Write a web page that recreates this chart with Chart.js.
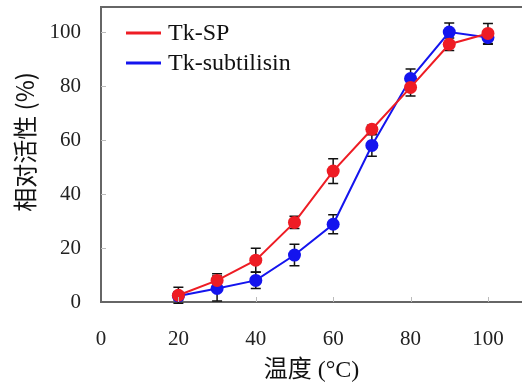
<!DOCTYPE html>
<html lang="zh">
<head>
  <meta charset="UTF-8">
  <title>相对活性</title>
  <script src="https://cdn.jsdelivr.net/npm/chart.js"></script>
  <style>
    html, body { margin: 0; padding: 0; background: #fff; overflow: hidden; }
    #wrap { width: 522px; height: 385px; }
  </style>
</head>
<body>
  <div id="wrap"><canvas id="actChart"></canvas></div>

  <script>
    const temps = [20, 30, 40, 50, 60, 70, 80, 90, 100];
    const spValues = [2.5, 8, 15.5, 29.5, 48.5, 64, 79.5, 95.5, 99.5];
    const spErrors = [3, 2.5, 4.4, 2.3, 4.6, 1.5, 3.2, 2.3, 3.7];
    const subValues = [2.2, 5, 8, 17.4, 28.8, 58, 82.8, 100, 98];
    const subErrors = [1.5, 4.6, 3, 4, 3.5, 4, 3.5, 3.4, 2.5];
    const xTicks = [0, 20, 40, 60, 80, 100];
    const yTicks = [0, 20, 40, 60, 80, 100];
    const seriesNames = ['Tk-SP', 'Tk-subtilisin'];
    const seriesColors = ['#ee1c24', '#1414ee'];
    const yTitle = '相对活性 (%)';
    const xTitle = '温度 (°C)';

    const serif = '"Liberation Serif", "Times New Roman", "Noto Sans CJK SC", serif';
    const cjk = '"Noto Sans CJK SC", "Liberation Sans", sans-serif';

    function toPoints(vals) {
      return temps.map((t, i) => ({ x: t, y: vals[i] }));
    }

    // error bars, frame top, inward ticks, y title and legend inside the plot
    const extras = {
      id: 'extras',
      beforeDatasetsDraw(chart) {
        const { ctx, scales: { x, y } } = chart;
        ctx.save();
        ctx.strokeStyle = '#111';
        ctx.lineWidth = 1.5;
        const sets = [[subValues, subErrors], [spValues, spErrors]];
        sets.forEach(([vals, errs]) => {
          temps.forEach((t, i) => {
            const px = x.getPixelForValue(t);
            const top = y.getPixelForValue(vals[i] + errs[i]);
            const bot = y.getPixelForValue(vals[i] - errs[i]);
            ctx.beginPath();
            ctx.moveTo(px, top); ctx.lineTo(px, bot);
            ctx.moveTo(px - 5, top); ctx.lineTo(px + 5, top);
            ctx.moveTo(px - 5, bot); ctx.lineTo(px + 5, bot);
            ctx.stroke();
          });
        });
        ctx.restore();
      },
      afterDraw(chart) {
        const { ctx, chartArea: a, scales: { x, y } } = chart;
        ctx.save();
        // top edge of the frame
        ctx.strokeStyle = '#666';
        ctx.lineWidth = 2;
        ctx.beginPath();
        ctx.moveTo(a.left - 1, a.top); ctx.lineTo(a.right, a.top);
        ctx.stroke();

        ctx.strokeStyle = '#bbb';
        ctx.lineWidth = 1;
        ctx.beginPath();
        yTicks.slice(1).forEach(v => {
          const py = Math.round(y.getPixelForValue(v)) + 0.5;
          ctx.moveTo(a.left, py); ctx.lineTo(a.left + 5, py);
        });
        xTicks.slice(1).forEach(v => {
          const px = Math.round(x.getPixelForValue(v)) + 0.5;
          ctx.moveTo(px, a.bottom); ctx.lineTo(px, a.bottom - 5);
        });
        ctx.stroke();

        // y axis title, sitting a little above the plot's middle as in the figure
        ctx.save();
        ctx.translate(24.5, a.top + 135);
        ctx.rotate(-Math.PI / 2);
        ctx.font = '24px ' + cjk;
        ctx.fillStyle = '#111';
        ctx.textAlign = 'center';
        ctx.textBaseline = 'middle';
        ctx.fillText(yTitle, 0, 0);
        ctx.restore();

        // legend
        ctx.font = '24px ' + serif;
        ctx.textBaseline = 'middle';
        ctx.fillStyle = '#111';
        seriesNames.forEach((name, i) => {
          const ly = a.top + 26 + i * 30;
          ctx.strokeStyle = seriesColors[i];
          ctx.lineWidth = 3;
          ctx.beginPath();
          ctx.moveTo(a.left + 25, ly); ctx.lineTo(a.left + 60, ly);
          ctx.stroke();
          ctx.fillText(name, a.left + 67, ly + 1);
        });
        ctx.restore();
      }
    };

    new Chart(document.getElementById('actChart'), {
      type: 'line',
      data: {
        datasets: seriesNames.map((name, i) => ({
          label: name,
          data: toPoints(i === 0 ? spValues : subValues),
          borderColor: seriesColors[i],
          backgroundColor: seriesColors[i],
          borderWidth: 2,
          pointRadius: 6.5,
          pointHoverRadius: 6.5,
          pointBorderWidth: 0,
          tension: 0
        }))
      },
      options: {
        responsive: true,
        maintainAspectRatio: false,
        animation: false,
        layout: { autoPadding: false, padding: { top: 7, right: 0, left: 0, bottom: 0 } },
        plugins: {
          tooltip: { enabled: false },
          legend: { display: false }
        },
        scales: {
          x: {
            type: 'linear',
            min: 0,
            max: 108.8,
            afterBuildTicks: s => { s.ticks = xTicks.map(v => ({ value: v })); },
            afterFit: s => { s.height = 83; s.paddingLeft = 0; s.paddingRight = 0; },
            grid: { display: false, drawTicks: false },
            border: { display: true, color: '#666', width: 2 },
            ticks: { padding: 25, color: '#222', font: { family: serif, size: 21 } },
            title: {
              display: true,
              text: xTitle,
              color: '#111',
              padding: { top: 0, bottom: 0 },
              font: { family: serif, size: 24 }
            }
          },
          y: {
            min: 0,
            max: 109.3,
            afterBuildTicks: s => { s.ticks = yTicks.map(v => ({ value: v })); },
            afterFit: s => { s.width = 101; s.paddingTop = 0; s.paddingBottom = 0; },
            grid: { display: false, drawTicks: false },
            border: { display: true, color: '#666', width: 2 },
            ticks: { padding: 20, color: '#222', font: { family: serif, size: 21 } }
          }
        }
      },
      plugins: [extras]
    });
  </script>
</body>
</html>
